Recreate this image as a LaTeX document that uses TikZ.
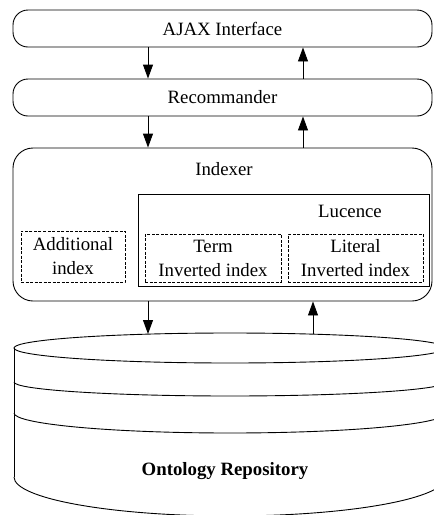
\documentclass[tikz,border=0pt]{standalone}
\usepackage{fontspec}
\setmainfont{Liberation Serif}
\usetikzlibrary{arrows.meta}
\begin{document}
\begin{tikzpicture}[x=1pt,y=1pt,
  every node/.style={font=\fontsize{18.8}{24}\selectfont, inner sep=0pt},
  layer/.style={draw, line width=0.9pt, rounded corners=15pt, minimum width=419pt, minimum height=37pt},
  bigbox/.style={draw, line width=0.9pt, rounded corners=20pt},
  solidbox/.style={draw, line width=0.9pt},
  dbox/.style={draw, line width=0.9pt, dash pattern=on 3pt off 1.5pt, align=center},
  arr/.style={line width=0.9pt, -{Triangle[length=14pt,width=10pt]}},
  cyl/.style={line width=0.9pt}
]
\useasboundingbox (0,0) rectangle (434,-515);
\clip (0,0) rectangle (434,-515);

% layers
\node[layer] (ajax) at (222.5,-28.5) {AJAX Interface};
\node[layer] (rec) at (222.5,-97.5) {Recommander};
\node[bigbox, minimum width=419pt, minimum height=153pt] (indexer) at (222.5,-224.5) {};
\node[anchor=base] (idxlbl) at (224,-175) {Indexer};
\node[solidbox, minimum width=291pt, minimum height=92pt] (lucene) at (283.5,-240) {};
\node[anchor=base] (luclbl) at (350,-217) {Lucence};
\node[dbox, minimum width=104pt, minimum height=51pt] (addl) at (73,-256.5) {Additional\\index};
\node[dbox, minimum width=136pt, minimum height=48pt] (term) at (213,-258) {Term\\Inverted index};
\node[dbox, minimum width=135pt, minimum height=48pt] (lit) at (355.5,-258) {Literal\\Inverted index};

% cylinder (repository)
\draw[cyl] (230,-348) ellipse [x radius=216, y radius=15];
\draw[cyl] (14,-348) -- (14,-477);
\draw[cyl] (446,-348) -- (446,-477);
\draw[cyl] (14,-382) arc[start angle=180, end angle=360, x radius=216, y radius=14];
\draw[cyl] (14,-413) arc[start angle=180, end angle=360, x radius=216, y radius=20];
\draw[cyl] (14,-477) arc[start angle=180, end angle=360, x radius=216, y radius=39];
\node[anchor=base] (repo) at (225,-475) {\bfseries Ontology Repository};
\coordinate (cyltop) at (230,-334);

% connector columns
\coordinate (c1) at (148,0);
\coordinate (c2) at (303,0);
\coordinate (c3) at (313,0);

\draw[arr] (ajax.south -| c1) -- (rec.north -| c1);
\draw[arr] (rec.north -| c2) -- (ajax.south -| c2);
\draw[arr] (rec.south -| c1) -- (indexer.north -| c1);
\draw[arr] (indexer.north -| c2) -- (rec.south -| c2);
\draw[arr] (indexer.south -| c1) -- (cyltop -| c1);
\draw[arr] (cyltop -| c3) -- (indexer.south -| c3);
\end{tikzpicture}
\end{document}
